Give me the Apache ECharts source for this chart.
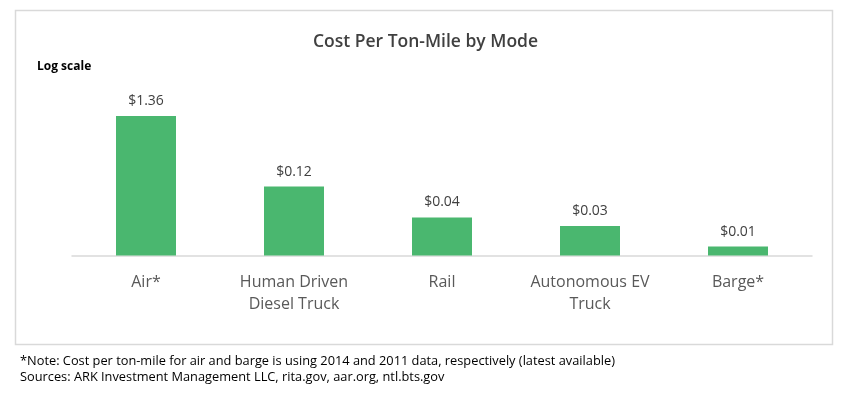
<!DOCTYPE html>
<html>
<head>
<meta charset="utf-8">
<script src="https://cdn.jsdelivr.net/npm/echarts@6/dist/echarts.min.js"></script>
<style>html,body{margin:0;padding:0;background:#fff;}#c{width:851px;height:395px;}</style>
</head>
<body>
<div id="c"></div>
<script>
const categories = ['Air*', 'Human Driven\nDiesel Truck', 'Rail', 'Autonomous EV\nTruck', 'Barge*'];
const costPerTonMile = [1.36, 0.116, 0.0394, 0.0293, 0.0143];
const axisFloor = 0.01047;   // bottom of the log axis
const axisCeil = 2.4;        // top of the log axis
const titleText = 'Cost Per Ton-Mile by Mode';
const scaleNote = 'Log scale';
const footnotes = [
  '*Note: Cost per ton-mile for air and barge is using 2014 and 2011 data, respectively (latest available)',
  'Sources: ARK Investment Management LLC, rita.gov, aar.org, ntl.bts.gov'
];

const FONT = 'Open Sans';
const logFloor = Math.log10(axisFloor);
const chart = echarts.init(document.getElementById('c'), null, {renderer: 'canvas'});
chart.setOption({
  backgroundColor: '#ffffff',
  animation: false,
  title: {
    text: titleText,
    left: 'center',
    top: 28,
    textStyle: {fontFamily: FONT, fontSize: 17.5, fontWeight: 600, color: '#404040'}
  },
  grid: {left: 72, right: 39, top: 99.7, height: 155.8, containLabel: false},
  xAxis: {
    type: 'category',
    data: categories,
    axisLine: {show: true, lineStyle: {color: '#d9d9d9', width: 1.5}},
    axisTick: {show: false},
    axisLabel: {interval: 0, margin: 16, fontFamily: FONT, fontSize: 16, lineHeight: 22, color: '#595959'}
  },
  yAxis: {
    type: 'value',
    min: 0,
    max: Math.log10(axisCeil) - logFloor,
    show: false,
    splitLine: {show: false}
  },
  series: [{
    type: 'bar',
    barWidth: 60,
    data: costPerTonMile.map(v => Math.log10(v) - logFloor),
    itemStyle: {color: '#4ab76f'},
    label: {
      show: true,
      position: 'top',
      distance: 8,
      fontFamily: FONT,
      fontSize: 14,
      color: '#404040',
      formatter: p => '$' + costPerTonMile[p.dataIndex].toFixed(2)
    }
  }],
  graphic: [
    {type: 'rect', shape: {x: 15.5, y: 10.5, width: 817, height: 334}, style: {fill: 'none', stroke: '#d9d9d9', lineWidth: 1.5}, silent: true, z: -1},
    {type: 'text', left: 37, top: 61, style: {text: scaleNote, fontFamily: FONT, fontSize: 12, fontWeight: 'bold', fill: '#000'}},
    {type: 'text', left: 20, top: 355, style: {text: footnotes[0], fontFamily: FONT, fontSize: 12.8, fill: '#000'}},
    {type: 'text', left: 20, top: 371, style: {text: footnotes[1], fontFamily: FONT, fontSize: 12.8, fill: '#000'}}
  ]
});
</script>
</body>
</html>
